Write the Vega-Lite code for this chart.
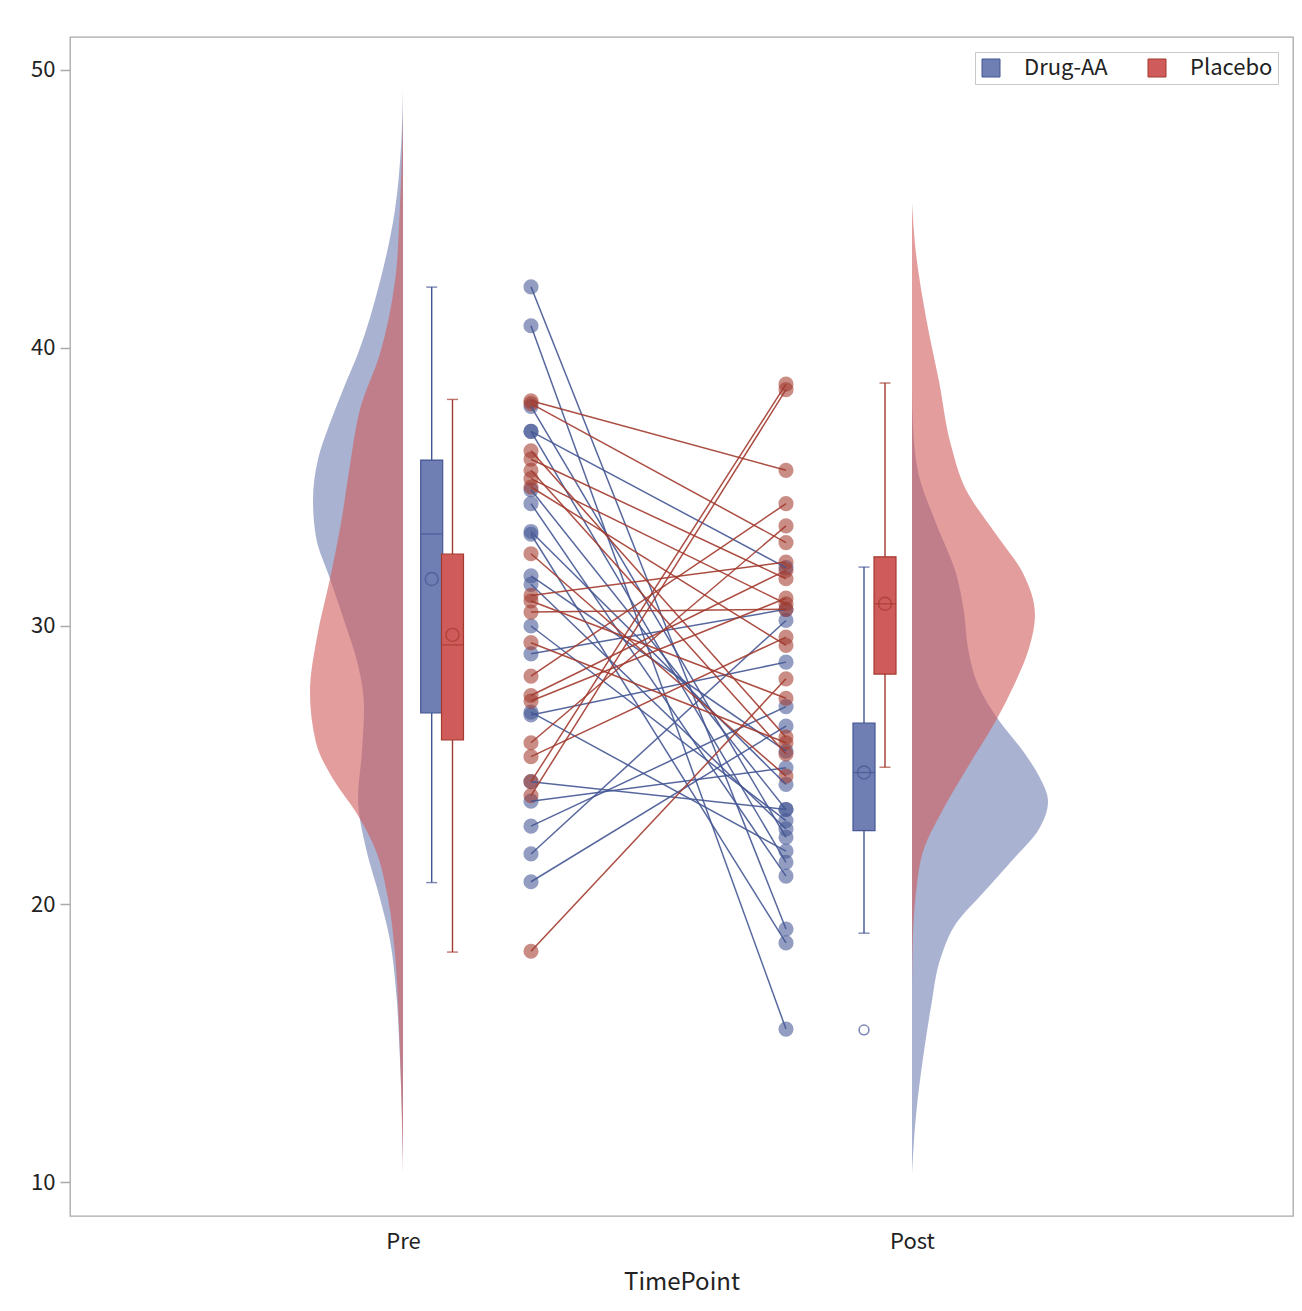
{
  "$schema": "https://vega.github.io/schema/vega-lite/v6.json",
  "autosize": "none",
  "padding": {"left": 70, "top": 37, "right": 9, "bottom": 95},
  "width": 1223,
  "height": 1179,
  "background": "white",
  "config": {
    "font": "Noto Sans CJK JP",
    "view": {"stroke": "#a8a8a8", "strokeWidth": 1.3}
  },
  "datasets": {
    "subjects": [
      {"id": "D01", "Group": "Drug-AA", "TimePoint": "Pre", "Score": 42.2}, {"id": "D01", "Group": "Drug-AA", "TimePoint": "Post", "Score": 19.1},
      {"id": "D02", "Group": "Drug-AA", "TimePoint": "Pre", "Score": 40.8}, {"id": "D02", "Group": "Drug-AA", "TimePoint": "Post", "Score": 15.5},
      {"id": "D03", "Group": "Drug-AA", "TimePoint": "Pre", "Score": 37.9}, {"id": "D03", "Group": "Drug-AA", "TimePoint": "Post", "Score": 22.4},
      {"id": "D04", "Group": "Drug-AA", "TimePoint": "Pre", "Score": 37.0}, {"id": "D04", "Group": "Drug-AA", "TimePoint": "Post", "Score": 32.1},
      {"id": "D05", "Group": "Drug-AA", "TimePoint": "Pre", "Score": 37.0}, {"id": "D05", "Group": "Drug-AA", "TimePoint": "Post", "Score": 21.5},
      {"id": "D06", "Group": "Drug-AA", "TimePoint": "Pre", "Score": 34.9}, {"id": "D06", "Group": "Drug-AA", "TimePoint": "Post", "Score": 23.4},
      {"id": "D07", "Group": "Drug-AA", "TimePoint": "Pre", "Score": 34.4}, {"id": "D07", "Group": "Drug-AA", "TimePoint": "Post", "Score": 21.0},
      {"id": "D08", "Group": "Drug-AA", "TimePoint": "Pre", "Score": 33.4}, {"id": "D08", "Group": "Drug-AA", "TimePoint": "Post", "Score": 24.3},
      {"id": "D09", "Group": "Drug-AA", "TimePoint": "Pre", "Score": 33.3}, {"id": "D09", "Group": "Drug-AA", "TimePoint": "Post", "Score": 18.6},
      {"id": "D10", "Group": "Drug-AA", "TimePoint": "Pre", "Score": 31.8}, {"id": "D10", "Group": "Drug-AA", "TimePoint": "Post", "Score": 25.5},
      {"id": "D11", "Group": "Drug-AA", "TimePoint": "Pre", "Score": 31.5}, {"id": "D11", "Group": "Drug-AA", "TimePoint": "Post", "Score": 22.7},
      {"id": "D12", "Group": "Drug-AA", "TimePoint": "Pre", "Score": 30.0}, {"id": "D12", "Group": "Drug-AA", "TimePoint": "Post", "Score": 23.0},
      {"id": "D13", "Group": "Drug-AA", "TimePoint": "Pre", "Score": 29.0}, {"id": "D13", "Group": "Drug-AA", "TimePoint": "Post", "Score": 30.6},
      {"id": "D14", "Group": "Drug-AA", "TimePoint": "Pre", "Score": 26.9}, {"id": "D14", "Group": "Drug-AA", "TimePoint": "Post", "Score": 21.9},
      {"id": "D15", "Group": "Drug-AA", "TimePoint": "Pre", "Score": 26.8}, {"id": "D15", "Group": "Drug-AA", "TimePoint": "Post", "Score": 28.7},
      {"id": "D16", "Group": "Drug-AA", "TimePoint": "Pre", "Score": 24.4}, {"id": "D16", "Group": "Drug-AA", "TimePoint": "Post", "Score": 23.4},
      {"id": "D17", "Group": "Drug-AA", "TimePoint": "Pre", "Score": 23.7}, {"id": "D17", "Group": "Drug-AA", "TimePoint": "Post", "Score": 24.9},
      {"id": "D18", "Group": "Drug-AA", "TimePoint": "Pre", "Score": 22.8}, {"id": "D18", "Group": "Drug-AA", "TimePoint": "Post", "Score": 27.1},
      {"id": "D19", "Group": "Drug-AA", "TimePoint": "Pre", "Score": 21.8}, {"id": "D19", "Group": "Drug-AA", "TimePoint": "Post", "Score": 30.2},
      {"id": "D20", "Group": "Drug-AA", "TimePoint": "Pre", "Score": 20.8}, {"id": "D20", "Group": "Drug-AA", "TimePoint": "Post", "Score": 26.4},
      {"id": "P01", "Group": "Placebo", "TimePoint": "Pre", "Score": 38.1}, {"id": "P01", "Group": "Placebo", "TimePoint": "Post", "Score": 35.6},
      {"id": "P02", "Group": "Placebo", "TimePoint": "Pre", "Score": 38.0}, {"id": "P02", "Group": "Placebo", "TimePoint": "Post", "Score": 33.0},
      {"id": "P03", "Group": "Placebo", "TimePoint": "Pre", "Score": 36.3}, {"id": "P03", "Group": "Placebo", "TimePoint": "Post", "Score": 26.0},
      {"id": "P04", "Group": "Placebo", "TimePoint": "Pre", "Score": 36.0}, {"id": "P04", "Group": "Placebo", "TimePoint": "Post", "Score": 31.7},
      {"id": "P05", "Group": "Placebo", "TimePoint": "Pre", "Score": 35.6}, {"id": "P05", "Group": "Placebo", "TimePoint": "Post", "Score": 25.4},
      {"id": "P06", "Group": "Placebo", "TimePoint": "Pre", "Score": 35.3}, {"id": "P06", "Group": "Placebo", "TimePoint": "Post", "Score": 30.8},
      {"id": "P07", "Group": "Placebo", "TimePoint": "Pre", "Score": 35.0}, {"id": "P07", "Group": "Placebo", "TimePoint": "Post", "Score": 29.3},
      {"id": "P08", "Group": "Placebo", "TimePoint": "Pre", "Score": 32.6}, {"id": "P08", "Group": "Placebo", "TimePoint": "Post", "Score": 24.6},
      {"id": "P09", "Group": "Placebo", "TimePoint": "Pre", "Score": 31.1}, {"id": "P09", "Group": "Placebo", "TimePoint": "Post", "Score": 32.3},
      {"id": "P10", "Group": "Placebo", "TimePoint": "Pre", "Score": 30.9}, {"id": "P10", "Group": "Placebo", "TimePoint": "Post", "Score": 27.4},
      {"id": "P11", "Group": "Placebo", "TimePoint": "Pre", "Score": 30.5}, {"id": "P11", "Group": "Placebo", "TimePoint": "Post", "Score": 30.6},
      {"id": "P12", "Group": "Placebo", "TimePoint": "Pre", "Score": 29.4}, {"id": "P12", "Group": "Placebo", "TimePoint": "Post", "Score": 25.8},
      {"id": "P13", "Group": "Placebo", "TimePoint": "Pre", "Score": 28.2}, {"id": "P13", "Group": "Placebo", "TimePoint": "Post", "Score": 34.4},
      {"id": "P14", "Group": "Placebo", "TimePoint": "Pre", "Score": 27.5}, {"id": "P14", "Group": "Placebo", "TimePoint": "Post", "Score": 32.0},
      {"id": "P15", "Group": "Placebo", "TimePoint": "Pre", "Score": 27.3}, {"id": "P15", "Group": "Placebo", "TimePoint": "Post", "Score": 31.0},
      {"id": "P16", "Group": "Placebo", "TimePoint": "Pre", "Score": 25.8}, {"id": "P16", "Group": "Placebo", "TimePoint": "Post", "Score": 33.6},
      {"id": "P17", "Group": "Placebo", "TimePoint": "Pre", "Score": 25.3}, {"id": "P17", "Group": "Placebo", "TimePoint": "Post", "Score": 29.6},
      {"id": "P18", "Group": "Placebo", "TimePoint": "Pre", "Score": 24.4}, {"id": "P18", "Group": "Placebo", "TimePoint": "Post", "Score": 38.7},
      {"id": "P19", "Group": "Placebo", "TimePoint": "Pre", "Score": 23.9}, {"id": "P19", "Group": "Placebo", "TimePoint": "Post", "Score": 38.5},
      {"id": "P20", "Group": "Placebo", "TimePoint": "Pre", "Score": 18.3}, {"id": "P20", "Group": "Placebo", "TimePoint": "Post", "Score": 28.1}
    ],
    "stats": [
      {"Group": "Drug-AA", "TimePoint": "Pre", "Lower": 20.77, "Q1": 26.87, "Median": 33.31, "Q3": 35.97, "Upper": 42.19, "Mean": 31.69},
      {"Group": "Drug-AA", "TimePoint": "Post", "Lower": 18.95, "Q1": 22.64, "Median": 24.73, "Q3": 26.51, "Upper": 32.12, "Mean": 24.73},
      {"Group": "Placebo", "TimePoint": "Pre", "Lower": 18.27, "Q1": 25.9, "Median": 29.32, "Q3": 32.59, "Upper": 38.15, "Mean": 29.68},
      {"Group": "Placebo", "TimePoint": "Post", "Lower": 24.92, "Q1": 28.27, "Median": 30.8, "Q3": 32.49, "Upper": 38.74, "Mean": 30.8}
    ],
    "outliers": [
      {"Group": "Drug-AA", "TimePoint": "Post", "Score": 15.47}
    ],
    "density": [
      {"Group": "Drug-AA", "TimePoint": "Pre", "Score": 49.3, "Density": 0},
      {"Group": "Drug-AA", "TimePoint": "Pre", "Score": 47.4, "Density": 0.0017},
      {"Group": "Drug-AA", "TimePoint": "Pre", "Score": 44.9, "Density": 0.0083},
      {"Group": "Drug-AA", "TimePoint": "Pre", "Score": 42.4, "Density": 0.023},
      {"Group": "Drug-AA", "TimePoint": "Pre", "Score": 39.8, "Density": 0.045},
      {"Group": "Drug-AA", "TimePoint": "Pre", "Score": 38.5, "Density": 0.060},
      {"Group": "Drug-AA", "TimePoint": "Pre", "Score": 37.3, "Density": 0.073},
      {"Group": "Drug-AA", "TimePoint": "Pre", "Score": 36.0, "Density": 0.085},
      {"Group": "Drug-AA", "TimePoint": "Pre", "Score": 34.5, "Density": 0.090},
      {"Group": "Drug-AA", "TimePoint": "Pre", "Score": 33.2, "Density": 0.087},
      {"Group": "Drug-AA", "TimePoint": "Pre", "Score": 31.7, "Density": 0.073},
      {"Group": "Drug-AA", "TimePoint": "Pre", "Score": 30.1, "Density": 0.058},
      {"Group": "Drug-AA", "TimePoint": "Pre", "Score": 28.6, "Density": 0.045},
      {"Group": "Drug-AA", "TimePoint": "Pre", "Score": 27.1, "Density": 0.039},
      {"Group": "Drug-AA", "TimePoint": "Pre", "Score": 25.5, "Density": 0.041},
      {"Group": "Drug-AA", "TimePoint": "Pre", "Score": 23.8, "Density": 0.045},
      {"Group": "Drug-AA", "TimePoint": "Pre", "Score": 22.0, "Density": 0.037},
      {"Group": "Drug-AA", "TimePoint": "Pre", "Score": 20.2, "Density": 0.023},
      {"Group": "Drug-AA", "TimePoint": "Pre", "Score": 18.7, "Density": 0.013},
      {"Group": "Drug-AA", "TimePoint": "Pre", "Score": 16.9, "Density": 0.007},
      {"Group": "Drug-AA", "TimePoint": "Pre", "Score": 14.4, "Density": 0.003},
      {"Group": "Drug-AA", "TimePoint": "Pre", "Score": 10.8, "Density": 0},
      {"Group": "Placebo", "TimePoint": "Pre", "Score": 48.5, "Density": 0},
      {"Group": "Placebo", "TimePoint": "Pre", "Score": 44.9, "Density": 0.0033},
      {"Group": "Placebo", "TimePoint": "Pre", "Score": 42.4, "Density": 0.008},
      {"Group": "Placebo", "TimePoint": "Pre", "Score": 39.8, "Density": 0.023},
      {"Group": "Placebo", "TimePoint": "Pre", "Score": 37.8, "Density": 0.043},
      {"Group": "Placebo", "TimePoint": "Pre", "Score": 35.8, "Density": 0.053},
      {"Group": "Placebo", "TimePoint": "Pre", "Score": 33.7, "Density": 0.062},
      {"Group": "Placebo", "TimePoint": "Pre", "Score": 31.7, "Density": 0.073},
      {"Group": "Placebo", "TimePoint": "Pre", "Score": 29.6, "Density": 0.086},
      {"Group": "Placebo", "TimePoint": "Pre", "Score": 27.6, "Density": 0.093},
      {"Group": "Placebo", "TimePoint": "Pre", "Score": 25.8, "Density": 0.087},
      {"Group": "Placebo", "TimePoint": "Pre", "Score": 24.5, "Density": 0.070},
      {"Group": "Placebo", "TimePoint": "Pre", "Score": 23.3, "Density": 0.047},
      {"Group": "Placebo", "TimePoint": "Pre", "Score": 22.0, "Density": 0.028},
      {"Group": "Placebo", "TimePoint": "Pre", "Score": 20.2, "Density": 0.015},
      {"Group": "Placebo", "TimePoint": "Pre", "Score": 18.2, "Density": 0.008},
      {"Group": "Placebo", "TimePoint": "Pre", "Score": 15.6, "Density": 0.004},
      {"Group": "Placebo", "TimePoint": "Pre", "Score": 13.1, "Density": 0.0017},
      {"Group": "Placebo", "TimePoint": "Pre", "Score": 10.3, "Density": 0},
      {"Group": "Drug-AA", "TimePoint": "Post", "Score": 38.5, "Density": 0},
      {"Group": "Drug-AA", "TimePoint": "Post", "Score": 37.2, "Density": 0.001},
      {"Group": "Drug-AA", "TimePoint": "Post", "Score": 35.4, "Density": 0.007},
      {"Group": "Drug-AA", "TimePoint": "Post", "Score": 33.7, "Density": 0.024},
      {"Group": "Drug-AA", "TimePoint": "Post", "Score": 31.9, "Density": 0.044},
      {"Group": "Drug-AA", "TimePoint": "Post", "Score": 30.5, "Density": 0.052},
      {"Group": "Drug-AA", "TimePoint": "Post", "Score": 29.2, "Density": 0.056},
      {"Group": "Drug-AA", "TimePoint": "Post", "Score": 27.8, "Density": 0.067},
      {"Group": "Drug-AA", "TimePoint": "Post", "Score": 26.6, "Density": 0.087},
      {"Group": "Drug-AA", "TimePoint": "Post", "Score": 25.5, "Density": 0.111},
      {"Group": "Drug-AA", "TimePoint": "Post", "Score": 24.6, "Density": 0.127},
      {"Group": "Drug-AA", "TimePoint": "Post", "Score": 23.7, "Density": 0.136},
      {"Group": "Drug-AA", "TimePoint": "Post", "Score": 22.7, "Density": 0.127},
      {"Group": "Drug-AA", "TimePoint": "Post", "Score": 21.6, "Density": 0.101},
      {"Group": "Drug-AA", "TimePoint": "Post", "Score": 20.4, "Density": 0.071},
      {"Group": "Drug-AA", "TimePoint": "Post", "Score": 19.3, "Density": 0.044},
      {"Group": "Drug-AA", "TimePoint": "Post", "Score": 18.1, "Density": 0.029},
      {"Group": "Drug-AA", "TimePoint": "Post", "Score": 16.3, "Density": 0.019},
      {"Group": "Drug-AA", "TimePoint": "Post", "Score": 14.7, "Density": 0.012},
      {"Group": "Drug-AA", "TimePoint": "Post", "Score": 12.4, "Density": 0.004},
      {"Group": "Drug-AA", "TimePoint": "Post", "Score": 10.3, "Density": 0},
      {"Group": "Placebo", "TimePoint": "Post", "Score": 45.2, "Density": 0},
      {"Group": "Placebo", "TimePoint": "Post", "Score": 43.4, "Density": 0.004},
      {"Group": "Placebo", "TimePoint": "Post", "Score": 41.1, "Density": 0.014},
      {"Group": "Placebo", "TimePoint": "Post", "Score": 38.8, "Density": 0.027},
      {"Group": "Placebo", "TimePoint": "Post", "Score": 36.5, "Density": 0.039},
      {"Group": "Placebo", "TimePoint": "Post", "Score": 34.9, "Density": 0.054},
      {"Group": "Placebo", "TimePoint": "Post", "Score": 33.3, "Density": 0.084},
      {"Group": "Placebo", "TimePoint": "Post", "Score": 31.9, "Density": 0.111},
      {"Group": "Placebo", "TimePoint": "Post", "Score": 30.4, "Density": 0.123},
      {"Group": "Placebo", "TimePoint": "Post", "Score": 29.2, "Density": 0.117},
      {"Group": "Placebo", "TimePoint": "Post", "Score": 27.8, "Density": 0.101},
      {"Group": "Placebo", "TimePoint": "Post", "Score": 26.6, "Density": 0.084},
      {"Group": "Placebo", "TimePoint": "Post", "Score": 25.0, "Density": 0.057},
      {"Group": "Placebo", "TimePoint": "Post", "Score": 23.4, "Density": 0.031},
      {"Group": "Placebo", "TimePoint": "Post", "Score": 22.0, "Density": 0.012},
      {"Group": "Placebo", "TimePoint": "Post", "Score": 20.4, "Density": 0.004},
      {"Group": "Placebo", "TimePoint": "Post", "Score": 18.6, "Density": 0.0007},
      {"Group": "Placebo", "TimePoint": "Post", "Score": 17.0, "Density": 0}
    ]
  },
  "resolve": {"scale": {"x": "independent"}},
  "layer": [
    {
      "data": {"name": "density"},
      "transform": [{"filter": "datum.TimePoint === 'Pre'"}],
      "mark": {"type": "area", "orient": "horizontal", "interpolate": "monotone", "fillOpacity": 0.6},
      "encoding": {
        "y": {"field": "Score", "type": "quantitative", "title": null,
              "scale": {"domain": [8.777, 51.187], "nice": false, "zero": false},
              "axis": {"values": [10, 20, 30, 40, 50], "grid": false, "domain": false, "tickColor": "#aaaaaa", "tickSize": 10, "tickWidth": 1.5, "labelFontSize": 22, "labelColor": "#222222", "labelPadding": 5, "title": null}},
        "x": {"field": "Density", "type": "quantitative", "stack": null,
              "scale": {"domain": [-0.890, 0.333], "reverse": true, "nice": false, "zero": false}, "axis": null},
        "x2": {"datum": 0},
        "fill": {"field": "Group", "type": "nominal",
                 "scale": {"domain": ["Drug-AA", "Placebo"], "range": ["#6F7EB3", "#D05B5B"]},
                 "legend": {"title": null, "orient": "top-right", "direction": "horizontal", "offset": 15, "padding": 5,
                            "strokeColor": "#c8c8c8", "fillColor": "white", "symbolType": "square",
                            "symbolSize": 324, "symbolStrokeWidth": 1, "symbolStrokeColor": "#50505080", "symbolOpacity": 1, "symbolFillOpacity": 1,
                            "labelFontSize": 22, "labelColor": "#222222", "labelOffset": 22, "columnPadding": 38}}
      }
    },
    {
      "data": {"name": "density"},
      "transform": [{"filter": "datum.TimePoint === 'Post'"}],
      "mark": {"type": "area", "orient": "horizontal", "interpolate": "monotone", "fillOpacity": 0.6},
      "encoding": {
        "y": {"field": "Score", "type": "quantitative", "title": null,
              "scale": {"domain": [8.777, 51.187], "nice": false, "zero": false}},
        "x": {"field": "Density", "type": "quantitative", "stack": null,
              "scale": {"domain": [-0.842, 0.381], "nice": false, "zero": false}, "axis": null},
        "x2": {"datum": 0},
        "fill": {"field": "Group", "type": "nominal",
                 "scale": {"domain": ["Drug-AA", "Placebo"], "range": ["#6F7EB3", "#D05B5B"]}}
      }
    },
    {
      "data": {"name": "subjects"},
      "encoding": {
        "x": {"field": "TimePoint", "type": "nominal",
              "scale": {"type": "point", "domain": ["Pre", "Post"], "range": [461, 716], "padding": 0}, "axis": null},
        "y": {"field": "Score", "type": "quantitative", "title": null,
              "scale": {"domain": [8.777, 51.187], "nice": false, "zero": false}},
        "color": {"field": "Group", "type": "nominal", "legend": null,
                  "scale": {"domain": ["Drug-AA", "Placebo"], "range": ["#445694", "#A23A2E"]}}
      },
      "layer": [
        {"mark": {"type": "circle", "size": 230, "opacity": 0.58}},
        {"mark": {"type": "line", "strokeWidth": 1.5, "opacity": 0.9}, "encoding": {"detail": {"field": "id"}}}
      ]
    },
    {
      "data": {"name": "stats"},
      "transform": [{"filter": "datum.Group === 'Drug-AA'"}],
      "encoding": {
        "x": {"field": "TimePoint", "type": "nominal",
              "scale": {"type": "point", "domain": ["Pre", "Post"], "range": [361.7, 794], "padding": 0}, "axis": null}
      },
      "layer": [
        {"mark": {"type": "rule", "color": "#445694", "strokeWidth": 1.4},
         "encoding": {"y": {"field": "Lower", "type": "quantitative", "title": null, "scale": {"domain": [8.777, 51.187], "nice": false, "zero": false}}, "y2": {"field": "Upper"}}},
        {"mark": {"type": "tick", "color": "#445694", "size": 11, "thickness": 1.4},
         "encoding": {"y": {"field": "Lower", "type": "quantitative", "title": null, "scale": {"domain": [8.777, 51.187], "nice": false, "zero": false}}}},
        {"mark": {"type": "tick", "color": "#445694", "size": 11, "thickness": 1.4},
         "encoding": {"y": {"field": "Upper", "type": "quantitative", "title": null, "scale": {"domain": [8.777, 51.187], "nice": false, "zero": false}}}},
        {"mark": {"type": "bar", "size": 22, "strokeWidth": 1.2, "fill": "#6F7EB3", "stroke": "#445694"},
         "encoding": {"y": {"field": "Q1", "type": "quantitative", "title": null, "scale": {"domain": [8.777, 51.187], "nice": false, "zero": false}}, "y2": {"field": "Q3"}}},
        {"mark": {"type": "tick", "color": "#445694", "size": 22, "thickness": 1.4},
         "encoding": {"y": {"field": "Median", "type": "quantitative", "title": null, "scale": {"domain": [8.777, 51.187], "nice": false, "zero": false}}}},
        {"mark": {"type": "point", "shape": "circle", "filled": false, "size": 170, "strokeWidth": 1.4, "color": "#445694"},
         "encoding": {"y": {"field": "Mean", "type": "quantitative", "title": null, "scale": {"domain": [8.777, 51.187], "nice": false, "zero": false}}}},
        {"data": {"name": "outliers"},
         "mark": {"type": "point", "shape": "circle", "filled": false, "size": 95, "strokeWidth": 1.6, "color": "#445694"},
         "encoding": {"y": {"field": "Score", "type": "quantitative", "title": null, "scale": {"domain": [8.777, 51.187], "nice": false, "zero": false}}}}
      ]
    },
    {
      "data": {"name": "stats"},
      "transform": [{"filter": "datum.Group === 'Placebo'"}],
      "encoding": {
        "x": {"field": "TimePoint", "type": "nominal",
              "scale": {"type": "point", "domain": ["Pre", "Post"], "range": [382.5, 815], "padding": 0}, "axis": null}
      },
      "layer": [
        {"mark": {"type": "rule", "color": "#A23A2E", "strokeWidth": 1.4},
         "encoding": {"y": {"field": "Lower", "type": "quantitative", "title": null, "scale": {"domain": [8.777, 51.187], "nice": false, "zero": false}}, "y2": {"field": "Upper"}}},
        {"mark": {"type": "tick", "color": "#A23A2E", "size": 11, "thickness": 1.4},
         "encoding": {"y": {"field": "Lower", "type": "quantitative", "title": null, "scale": {"domain": [8.777, 51.187], "nice": false, "zero": false}}}},
        {"mark": {"type": "tick", "color": "#A23A2E", "size": 11, "thickness": 1.4},
         "encoding": {"y": {"field": "Upper", "type": "quantitative", "title": null, "scale": {"domain": [8.777, 51.187], "nice": false, "zero": false}}}},
        {"mark": {"type": "bar", "size": 22, "strokeWidth": 1.2, "fill": "#D05B5B", "stroke": "#A23A2E"},
         "encoding": {"y": {"field": "Q1", "type": "quantitative", "title": null, "scale": {"domain": [8.777, 51.187], "nice": false, "zero": false}}, "y2": {"field": "Q3"}}},
        {"mark": {"type": "tick", "color": "#A23A2E", "size": 22, "thickness": 1.4},
         "encoding": {"y": {"field": "Median", "type": "quantitative", "title": null, "scale": {"domain": [8.777, 51.187], "nice": false, "zero": false}}}},
        {"mark": {"type": "point", "shape": "circle", "filled": false, "size": 170, "strokeWidth": 1.4, "color": "#A23A2E"},
         "encoding": {"y": {"field": "Mean", "type": "quantitative", "title": null, "scale": {"domain": [8.777, 51.187], "nice": false, "zero": false}}}}
      ]
    },
    {
      "data": {"name": "stats"},
      "mark": {"type": "point", "opacity": 0},
      "encoding": {
        "x": {"field": "TimePoint", "type": "nominal",
              "scale": {"type": "point", "domain": ["Pre", "Post"], "padding": 0.7014, "align": 0.4664},
              "axis": {"ticks": false, "domain": false, "labelAngle": 0, "labelFontSize": 22, "labelColor": "#222222", "labelPadding": 15,
                       "title": "TimePoint", "titleFontSize": 24, "titleFontWeight": "normal", "titleColor": "#222222", "titlePadding": 18}},
        "y": {"field": "Median", "type": "quantitative", "title": null,
              "scale": {"domain": [8.777, 51.187], "nice": false, "zero": false}}
      }
    }
  ]
}
